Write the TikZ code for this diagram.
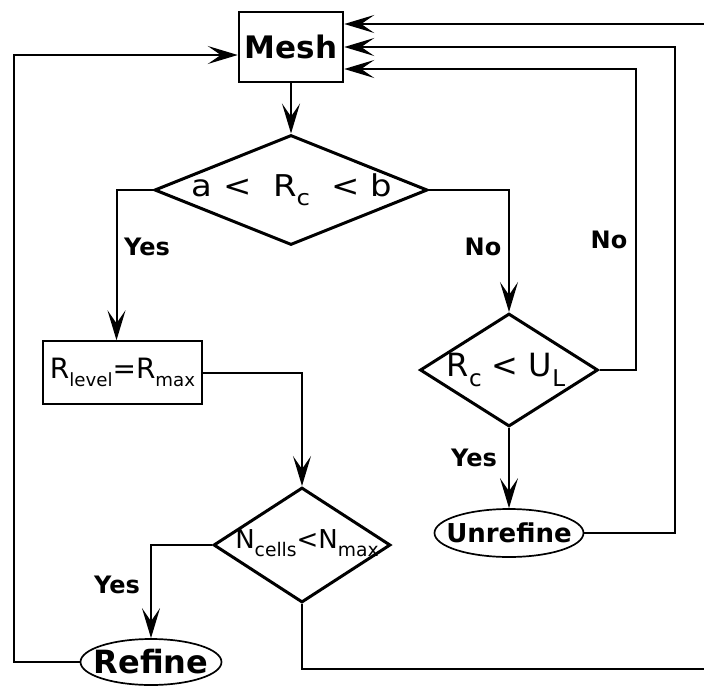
\documentclass[tikz,border=0pt]{standalone}
\usepackage{fontspec}
\setmainfont{DejaVu Sans}
\usepackage{tikz}
\usetikzlibrary{shapes.geometric, positioning, arrows.meta, calc}

\newcommand{\dn}[2][0.72]{\raisebox{-0.3em}{\scalebox{#1}{#2}}}
\newcommand{\fs}[1]{\fontsize{#1}{#1}\selectfont}

\tikzset{
  arr/.style={-{Stealth[length=30pt,width=18pt,inset=13pt]}, line width=2pt},
  block/.style={rectangle, draw, inner sep=0pt},
  decision/.style={diamond, draw, line width=3pt, inner sep=0pt},
  term/.style={ellipse, draw, line width=1.7pt, inner sep=0pt},
  lbl/.style={font=\bfseries\fs{24}}
}

\begin{document}
\begin{tikzpicture}[x=1pt, y=-1pt]
    \useasboundingbox (0,0) rectangle (704,688);

    % boxes and decisions
    \node[block, line width=2.5pt, minimum width=104pt, minimum height=70pt, font=\bfseries\fs{31}] (mesh) at (291,47) {Mesh};
    \node[decision, minimum width=273pt, minimum height=110pt] (rc) at (291,190) {};
    \node[font=\fs{30}] (rctext) at (292,190) {\scalebox{1.13}[1]{a <\ \ R\dn{c}\ \ < b}};
    \node[block, line width=1.4pt, minimum width=159pt, minimum height=63pt, font=\fs{28}] (lvl) at (122.5,372.5) {R\dn[0.65]{level}=R\dn[0.65]{max}};
    \node[decision, minimum width=178pt, minimum height=113pt] (ul) at (509,370) {};
    \node[font=\fs{32}] (ultext) at (506,370) {R\dn{c} < U\dn{L}};
    \node[decision, minimum width=177pt, minimum height=115pt] (nc) at (302,545) {};
    \node[font=\fs{26}, inner sep=0pt] (nctext) at (307,543) {N\dn{cells}<N\dn{max}};
    \node[term, minimum width=141pt, minimum height=46pt] (ref) at (151,662) {};
    \node[font=\bfseries\fs{32}] (reftext) at (ref) {Refine};
    \node[term, minimum width=149pt, minimum height=48pt] (unref) at (509,533) {};
    \node[font=\bfseries\fs{26}] (unreftext) at (unref) {Unrefine};

    % loose ends at the right border
    \coordinate (outtop) at (704,24);
    \coordinate (outbot) at (704,669);

    % connectors
    \draw[arr] (mesh) -- (rc);
    \draw[arr] (rc.west) -| ([xshift=-6pt]lvl.north);
    \draw[arr] (rc.east) -| (ul.north);
    \draw[arr] (lvl.east) -| (nc.north);
    \draw[arr] (nc.west) -| (ref.north);
    \draw[arr] (ul.south) -- (unref.north);
    \draw[arr] (ref.west) -- ++(-66,0) |- ([yshift=-8pt]mesh.west);
    \draw[line width=2pt] (nc.south) |- (outbot);
    \draw[arr] (outtop) -- ([yshift=23pt]mesh.east);
    \draw[arr] (unref.east) -- ++(91,0) |- (mesh.east);
    \draw[arr] (ul.east) -- ++(36,0) |- ([yshift=-22pt]mesh.east);

    % labels
    \node[lbl] (yes1) at (147,247) {Yes};
    \node[lbl] (no1) at (483,247) {No};
    \node[lbl] (no2) at (609,240) {No};
    \node[lbl] (yes2) at (474,458) {Yes};
    \node[lbl] (yes3) at (117,585) {Yes};
\end{tikzpicture}
\end{document}
